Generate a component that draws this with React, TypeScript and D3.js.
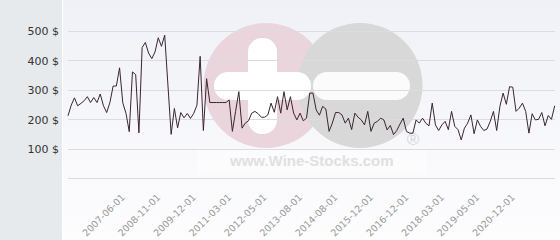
import React from "react";
import * as d3 from "d3";

const values: number[] = [
  213, 249, 274, 247, 255, 264, 278, 258, 275, 258,
  287, 247, 224, 258, 314, 314, 376, 257, 221, 159,
  362, 353, 155, 445, 462, 426, 407, 430, 478, 449,
  487, 318, 150, 238, 172, 224, 206, 221, 204, 221,
  249, 415, 163, 339, 258, 258, 258, 258, 258, 258,
  267, 160, 228, 295, 171, 188, 196, 222, 228, 220,
  208, 208, 216, 256, 225, 278, 222, 295, 233, 278,
  222, 199, 222, 196, 205, 290, 290, 233, 215, 245,
  236, 160, 188, 224, 224, 216, 188, 205, 166, 222,
  208, 199, 182, 228, 160, 188, 194, 205, 199, 165,
  180, 149, 163, 185, 205, 160, 154, 154, 199, 188,
  205, 188, 179, 256, 182, 163, 182, 194, 166, 228,
  177, 166, 131, 171, 188, 216, 152, 199, 177, 163,
  168, 194, 228, 163, 245, 290, 252, 312, 310, 228,
  239, 256, 228, 154, 220, 199, 201, 224, 179, 214,
  201, 247,
];

const tickLabels: string[] = [
  "2007-06-01", "2008-11-01", "2009-12-01", "2011-03-01", "2012-05-01", "2013-08-01",
  "2014-08-01", "2015-12-01", "2016-12-01", "2018-03-01", "2019-05-01", "2020-12-01",
];
const firstLabelIndex = 16;
const labelEvery = 11;

const yTicks: number[] = [0, 100, 200, 300, 400, 500];

export default function App() {
  const W = 560;
  const H = 240;
  const x = d3.scaleLinear().domain([0, values.length - 1]).range([68, 554.7]);
  const y = d3.scaleLinear().domain([0, 500]).range([178.5, 31.3]);
  const line = d3
    .line<number>()
    .x((_, i) => x(i))
    .y((d) => y(d));

  const crisp = (v: number) => Math.floor(v) + 0.5;

  return (
    <svg
      width={W}
      height={H}
      style={{ position: "fixed", left: 0, top: 0, display: "block" }}
      fontFamily="'DejaVu Sans', Verdana, sans-serif"
    >
      <defs>
        <linearGradient id="bg" x1="0" y1="0" x2="0" y2="1">
          <stop offset="0" stopColor="#f0f1f6" />
          <stop offset="1" stopColor="#fdfdfe" />
        </linearGradient>
      </defs>
      <rect x={0} y={0} width={W} height={H} fill="url(#bg)" />
      <rect x={0} y={0} width={62} height={H} fill="#e7eaed" />
      <rect x={62} y={0} width={1} height={H} fill="#ffffff" />

      {/* watermark */}
      <g>
        <circle cx={266} cy={85.5} r={62.5} fill="#ebd5dc" />
        <circle cx={360} cy={85.5} r={62.5} fill="#d8d8d9" />
        <rect x={248} y={38} width={29} height={96} rx={14} fill="#ffffff" />
        <rect x={214} y={72} width={97} height={28} rx={14} fill="#ffffff" />
        <rect x={313} y={72} width={97} height={28} rx={14} fill="#fbfbfc" />
        <rect x={197} y={150} width={230} height={25} fill="#ffffff" opacity={0.45} />
        <text
          x={230}
          y={166}
          fontFamily="'Liberation Sans', Arial, sans-serif"
          fontWeight="bold"
          fontSize={15}
          fill="#e0e0e2"
        >
          www.Wine-Stocks.com
        </text>
        <text
          x={413}
          y={145}
          textAnchor="middle"
          fontFamily="'Liberation Sans', Arial, sans-serif"
          fontSize={17}
          fill="#d6d6d8"
        >
          ®
        </text>
      </g>

      {/* gridlines */}
      {yTicks.map((t) => (
        <line
          key={t}
          x1={68}
          x2={555}
          y1={crisp(y(t))}
          y2={crisp(y(t))}
          stroke="#dcdcde"
          strokeWidth={1}
        />
      ))}

      {/* y labels */}
      {yTicks
        .filter((t) => t > 0)
        .map((t) => (
          <text
            key={t}
            x={59}
            y={y(t) + 4}
            textAnchor="end"
            fontSize={11}
            fill="#333333"
          >
            {`${t} $`}
          </text>
        ))}

      {/* x labels */}
      {tickLabels.map((lab, k) => {
        const tx = x(firstLabelIndex + k * labelEvery) + 6;
        const ty = 198;
        return (
          <text
            key={lab}
            x={tx}
            y={ty}
            textAnchor="end"
            fontSize={9.5}
            fill="#999999"
            transform={`rotate(-45 ${tx} ${ty})`}
          >
            {lab}
          </text>
        );
      })}

      <path d={line(values) || ""} fill="none" stroke="#3a2530" strokeWidth={1} strokeLinejoin="round" />
    </svg>
  );
}
